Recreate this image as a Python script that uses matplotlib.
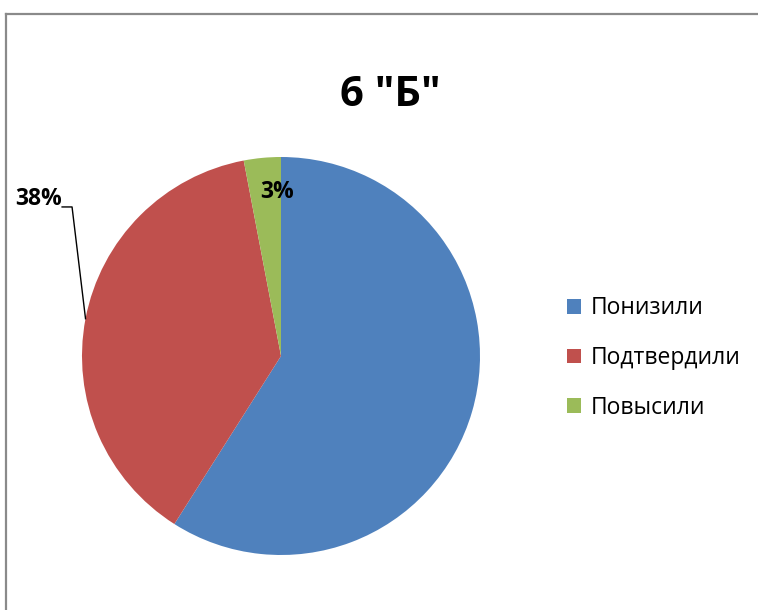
import numpy as np
import matplotlib
matplotlib.use("Agg")
import matplotlib.pyplot as plt
from matplotlib.lines import Line2D

plt.rcParams['font.family'] = ['Open Sans', 'DejaVu Sans']

title = '6 "Б"'
labels = ['Понизили', 'Подтвердили', 'Повысили']
values = [59, 38, 3]
colors = ['#4F81BD', '#C0504D', '#9BBB59']

W, H = 758, 610
fig = plt.figure(figsize=(W / 100, H / 100), dpi=100)

# frame of the chart area (goes off the right and bottom edge)
fig.add_artist(Line2D([5.5 / W, 5.5 / W], [0, 1 - 13.5 / H], color='#8a8a8a', lw=1.6))
fig.add_artist(Line2D([5.5 / W, 1], [1 - 13.5 / H, 1 - 13.5 / H], color='#8a8a8a', lw=1.6))

# pie axes: centre (281, 356) px, radius 199 px
cx, cy, r = 281, 356, 199
ax = fig.add_axes([(cx - r) / W, (H - cy - r) / H, 2 * r / W, 2 * r / H])
wedges, _ = ax.pie(values, colors=colors, startangle=90, counterclock=False,
                   radius=1, wedgeprops=dict(linewidth=0))
ax.set_xlim(-1, 1)
ax.set_ylim(-1, 1)
ax.set_aspect('equal')
ax.axis('off')

# 3% label inside the small slice
w = wedges[2]
mid = np.deg2rad((w.theta1 + w.theta2) / 2)
ax.text(0.83 * np.cos(mid) + 0.06, 0.83 * np.sin(mid), f'{values[2]}%',
        ha='center', va='center', fontsize=16.5, fontweight='bold')

# 38% label outside with leader line
w = wedges[1]
mid = np.deg2rad((w.theta1 + w.theta2) / 2)
ex, ey = np.cos(mid), np.sin(mid)
ax.plot([ex, -1.05, -1.10], [ey, 0.749, 0.749], color='black', lw=1, clip_on=False)
ax.text(-1.10, 0.79, f'{values[1]}%', ha='right', va='center',
        fontsize=16.5, fontweight='bold', clip_on=False)

fig.text(390 / W, 1 - 95 / H, title, ha='center', va='center',
         fontsize=30, fontweight='bold')

fig.legend(wedges, labels, loc='center left', bbox_to_anchor=(558 / W, 1 - 358 / H),
           frameon=False, fontsize=16.5, handlelength=0.62, handleheight=0.62,
           handletextpad=0.4, labelspacing=1.12, borderaxespad=0)

fig.savefig('out.png', dpi=100)
